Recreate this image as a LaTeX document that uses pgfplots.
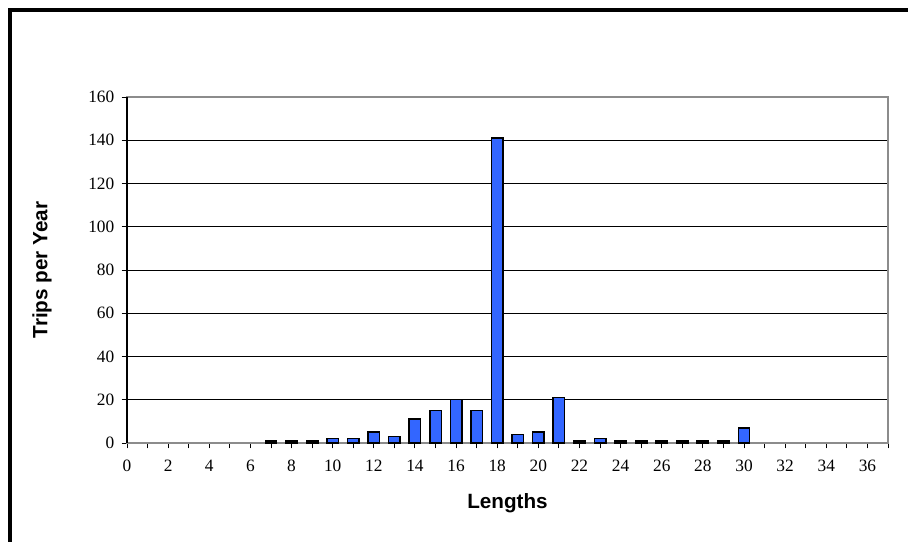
\documentclass[border=0pt]{standalone}
\usepackage{fontspec}
\setmainfont{Liberation Serif}
\newfontfamily\arialfont{Liberation Sans}
\usepackage{pgfplots}
\pgfplotsset{compat=1.18}
\definecolor{barblue}{RGB}{51,102,255}
\begin{document}
\begin{tikzpicture}[x=0.75pt,y=0.75pt]
\useasboundingbox (0,0) rectangle (908,542);
\draw[line width=3pt] (10.3,-5) -- (10.3,531.7) -- (920,531.7);
\begin{axis}[
  at={(127*0.75pt,99*0.75pt)}, anchor=south west,
  scale only axis, width=761*0.75pt, height=346*0.75pt,
  xmin=0, xmax=37, ymin=0, ymax=160,
  ybar, bar width=8.6pt,
  axis line style={draw=gray!90, line width=0.8pt},
  xtick={0,1,...,37},
  xticklabels={0,,2,,4,,6,,8,,10,,12,,14,,16,,18,,20,,22,,24,,26,,28,,30,,32,,34,,36,},
  ytick={0,20,...,140},
  extra y ticks={160}, extra y tick style={grid=none},
  ymajorgrids, grid style={black, line width=0.7pt},
  xtick pos=bottom, ytick pos=left, tick align=outside,
  major tick length=4pt,
  tick style={black, line width=0.7pt},
  /pgf/number format/assume math mode=true,
  ticklabel style={font=\fontsize{13}{15}\selectfont},
  xticklabel style={yshift=-5pt},
  yticklabel style={xshift=-2pt},
  xlabel={\arialfont\bfseries Lengths},
  ylabel={\arialfont\bfseries Trips per Year},
  label style={font=\fontsize{15.5}{18}\selectfont},
  x label style={at={(axis description cs:0.5,-0.1734)}, anchor=center},
  y label style={at={(axis description cs:-0.1117,0.5)}, anchor=center},
  clip=false,
]
\addplot[fill=barblue, draw=black, line width=1.1pt] coordinates {
(7,1) (8,1) (9,1) (10,2) (11,2) (12,5) (13,3) (14,11) (15,15) (16,20)
(17,15) (18,141) (19,4) (20,5) (21,21) (22,1) (23,2) (24,1) (25,1) (26,1)
(27,1) (28,1) (29,1) (30,7)
};
\draw[black, line width=0.8pt] (rel axis cs:0,0) -- (rel axis cs:0,1);
\end{axis}
\end{tikzpicture}
\end{document}
